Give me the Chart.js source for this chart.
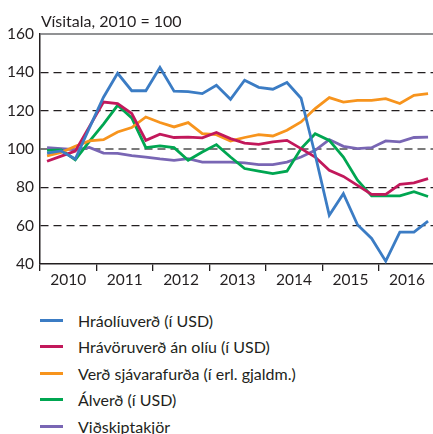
<!DOCTYPE html>
<html>
<head>
<meta charset="utf-8">
<script src="https://cdn.jsdelivr.net/npm/chart.js@4"></script>
<style>
  body { margin: 0; background: #fff; }
  #wrap { position: relative; width: 433px; height: 434px; font-family: Lato, "Open Sans", sans-serif; color: #231f20; }
  #chartBox { position: absolute; left: 0; top: 0; width: 433px; height: 300px; }
  #title { position: absolute; left: 41px; top: 11px; font-size: 16px; }
  #legend { position: absolute; left: 40px; top: 307px; font-size: 16px; }
  .item { height: 26.5px; display: flex; align-items: center; }
  .item span.sw { display: inline-block; width: 23px; height: 3px; margin-right: 15px; }
</style>
</head>
<body>
<div id="wrap">
  <div id="chartBox"><canvas id="chart" width="433" height="300"></canvas></div>
  <div id="title">Vísitala, 2010 = 100</div>
  <div id="legend"></div>
</div>
<script>
// ársfjórðungsgögn 2010-2016
const years = ["2010", "2011", "2012", "2013", "2014", "2015", "2016"]
const yTicks = [40, 60, 80, 100, 120, 140, 160]

const names = ["Hráolíuverð (í USD)", "Hrávöruverð án olíu (í USD)", "Verð sjávarafurða (í erl. gjaldm.)", "Álverð (í USD)", "Viðskiptakjör"]
const colors = ["#3b7cc4", "#c2185b", "#f7941d", "#00a651", "#7966b4"]

const oil = [97.9, 99.0, 94.8, 111.0, 127.0, 139.5, 130.4, 130.4, 142.5, 130.2, 129.9, 128.9, 133.2, 125.9, 135.9, 132.2, 131.2, 134.7, 126.5, 97.0, 65.4, 76.7, 60.5, 53.3, 41.5, 56.6, 56.6, 62.4]
const commodities = [93.6, 96.3, 98.9, 111.7, 124.5, 123.7, 118.5, 104.5, 107.7, 106.0, 106.2, 105.8, 108.6, 105.4, 103.1, 102.4, 103.7, 104.5, 100.2, 95.8, 88.9, 85.7, 81.0, 76.3, 76.3, 81.6, 82.3, 84.5]
const seafood = [96.4, 98.2, 101.4, 104.2, 104.9, 108.9, 111.2, 116.7, 113.8, 111.5, 113.8, 108.0, 107.5, 104.2, 106.0, 107.5, 106.8, 109.8, 114.1, 121.1, 126.8, 124.5, 125.4, 125.4, 126.3, 123.7, 128.0, 128.9]
const aluminium = [99.3, 99.5, 94.4, 104.0, 113.0, 122.8, 116.2, 100.7, 101.6, 100.7, 94.1, 98.4, 102.3, 95.8, 89.8, 88.5, 87.2, 88.4, 100.2, 108.0, 104.5, 95.8, 83.7, 75.5, 75.5, 75.5, 77.7, 75.2]
const tradeTerms = [100.7, 100.2, 99.6, 100.8, 97.9, 97.7, 96.5, 95.8, 94.8, 94.1, 95.0, 93.2, 93.2, 93.2, 92.8, 91.9, 91.9, 93.2, 95.8, 99.3, 104.9, 101.4, 100.2, 100.7, 104.2, 103.7, 106.0, 106.2]

const series = [oil, commodities, seafood, aluminium, tradeTerms]

// lína efst
const topLine = {
  id: 'topLine',
  beforeDatasetsDraw(chart){
    let a = chart.chartArea
    let ctx = chart.ctx
    ctx.save()
    ctx.strokeStyle = '#6d6e71'
    ctx.lineWidth = 1.5
    ctx.beginPath()
    ctx.moveTo(a.left, a.top)
    ctx.lineTo(a.right, a.top)
    ctx.stroke()
    ctx.restore()
  }
}

let datasets = series.map((vals, s) => ({
  label: names[s],
  data: vals.map((v, i) => ({x: i + 0.5, y: v})),
  borderColor: colors[s],
  backgroundColor: colors[s],
  borderWidth: 2.8,
  pointRadius: 0,
  tension: 0,
  fill: false
}))

new Chart(document.getElementById('chart'), {
  type: 'line',
  data: {datasets: datasets},
  plugins: [topLine],
  options: {
    responsive: false,
    animation: false,
    layout: {padding: {top: 34, right: 0, left: 0, bottom: 0}},
    plugins: {legend: {display: false}, tooltip: {enabled: false}},
    scales: {
      x: {
        type: 'linear',
        min: 0,
        max: 27.85,
        afterBuildTicks: scale => {
          let t = []
          for (let v = 0; v <= 26; v += 2) t.push({value: v})
          scale.ticks = t
        },
        afterFit: scale => { scale.height = 36 },
        ticks: {
          autoSkip: false,
          maxRotation: 0,
          padding: 0,
          color: '#231f20',
          font: {family: 'Lato', size: 15.5},
          callback: v => (v % 4 === 2 ? years[(v - 2) / 4] : '')
        },
        grid: {
          drawOnChartArea: false,
          drawTicks: true,
          tickLength: 7,
          lineWidth: 1.3,
          color: ctx => (ctx.tick && ctx.tick.value % 4 === 0 ? '#231f20' : 'rgba(0,0,0,0)')
        },
        border: {color: '#231f20', width: 1.5}
      },
      y: {
        min: 40,
        max: 160,
        afterBuildTicks: scale => { scale.ticks = yTicks.map(v => ({value: v})) },
        afterFit: scale => { scale.width = 40 },
        ticks: {
          padding: 6,
          color: '#231f20',
          font: {family: 'Lato', size: 15.5}
        },
        grid: {
          drawTicks: false,
          lineWidth: ctx => (ctx.tick && ctx.tick.value === 100 ? 2 : 1.2),
          color: ctx => {
            let v = ctx.tick ? ctx.tick.value : 0
            if (v === 160 || v === 40) return 'rgba(0,0,0,0)'
            if (v === 100) return '#7a7a7a'
            return '#231f20'
          }
        },
        border: {color: '#231f20', width: 1.5, dash: [8, 5]}
      }
    }
  }
})

// skýringar
let legend = document.getElementById('legend')
names.forEach((n, s) => {
  legend.innerHTML += `<div class="item"><span class="sw" style="background:${colors[s]}"></span>${n}</div>`
})
</script>
</body>
</html>
